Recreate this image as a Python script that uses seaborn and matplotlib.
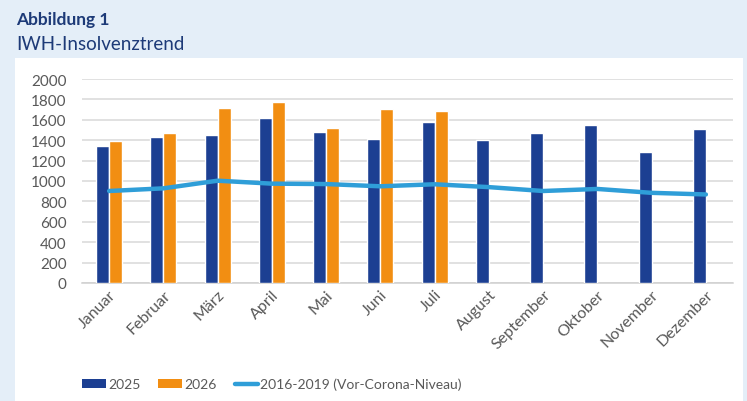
import pandas as pd
import numpy as np
import matplotlib.pyplot as plt
import seaborn as sns
from matplotlib.patches import Rectangle, Patch
from matplotlib.lines import Line2D

months = ["Januar", "Februar", "März", "April", "Mai", "Juni", "Juli",
          "August", "September", "Oktober", "November", "Dezember"]
vals_2025 = [1340, 1430, 1455, 1620, 1478, 1412, 1580, 1400, 1470, 1545, 1286, 1512]
vals_2026 = [1392, 1467, 1716, 1778, 1516, 1703, 1690,
             np.nan, np.nan, np.nan, np.nan, np.nan]
vor_corona = [902, 928, 1003, 974, 970, 948, 968, 940, 902, 922, 884, 868]

c2025 = "#1c3f92"
c2026 = "#f28e12"
cline = "#2f9ed8"
navy = "#1d3a78"
gray = "#595959"

sns.set_theme(style="white")
plt.rcParams["font.family"] = ["Lato", "DejaVu Sans"]

df = pd.DataFrame({
    "Monat": months * 2,
    "Jahr": ["2025"] * 12 + ["2026"] * 12,
    "Wert": vals_2025 + vals_2026,
})

fig = plt.figure(figsize=(7.47, 4.02), dpi=100)
fig.patch.set_facecolor("#e4eef8")
fig.patches.append(Rectangle((15 / 747, 0), (743 - 15) / 747, 1 - 59 / 402,
                             transform=fig.transFigure, facecolor="white",
                             edgecolor="none", zorder=-5))

ax = fig.add_axes([82 / 747, 1 - 284 / 402, (733 - 82) / 747, (284 - 80) / 402])
ax.set_facecolor("none")
ax.set_zorder(2)

sns.barplot(data=df, x="Monat", y="Wert", hue="Jahr", order=months,
            palette={"2025": c2025, "2026": c2026}, width=0.48,
            saturation=1, ax=ax, legend=False, zorder=3)
sns.lineplot(x=np.arange(len(months)), y=vor_corona, color=cline,
             linewidth=3.2, ax=ax, zorder=4)

ax.set_ylim(0, 2000)
ax.set_xlim(-0.5, 11.5)
ax.set_yticks(range(0, 2001, 200))
ax.yaxis.grid(True, color="#d9d9d9", linewidth=1.1, zorder=0)
ax.set_axisbelow(True)
for s in ["top", "right", "left"]:
    ax.spines[s].set_visible(False)
ax.spines["bottom"].set_color("#d0d0d0")
ax.spines["bottom"].set_linewidth(1.1)
ax.set_xlabel("")
ax.set_ylabel("")
ax.tick_params(axis="y", labelsize=11, labelcolor=gray, length=0, pad=11)
ax.tick_params(axis="x", labelsize=11.5, labelcolor=gray, length=0, pad=3)
ax.set_xticks(range(len(months)))
ax.set_xticklabels(months, rotation=45, ha="right", rotation_mode="anchor")

fig.text(16 / 747, 1 - 20 / 402, "Abbildung 1", fontsize=12.5, fontweight="bold",
         color=navy, va="center", ha="left")
fig.text(16 / 747, 1 - 44 / 402, "IWH-Insolvenztrend", fontsize=13.5,
         color=navy, va="center", ha="left")

handles = [Patch(facecolor=c2025, edgecolor="none"),
           Patch(facecolor=c2026, edgecolor="none"),
           Line2D([0], [0], color=cline, linewidth=3.2)]
fig.legend(handles, ["2025", "2026", "2016-2019 (Vor-Corona-Niveau)"],
           loc="center", bbox_to_anchor=(272 / 747, 1 - 385 / 402), ncol=3,
           frameon=False, labelcolor=gray, handlelength=1.7,
           handleheight=0.6, handletextpad=0.15, columnspacing=1.3,
           prop={"size": 10})

fig.savefig("out.png", dpi=100, facecolor=fig.get_facecolor())
